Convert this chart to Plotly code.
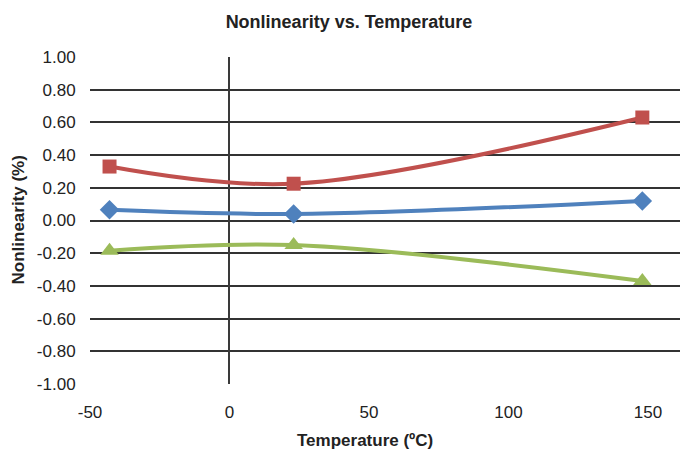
import plotly.graph_objects as go

# ── Data ────────────────────────────────────────────────────
TEMP_C = [-43, 23, 148]
RED_SERIES = [0.33, 0.225, 0.63]
BLUE_SERIES = [0.065, 0.04, 0.12]
GREEN_SERIES = [-0.185, -0.15, -0.37]

Y_TICKS = [-1.0, -0.8, -0.6, -0.4, -0.2, 0.0, 0.2, 0.4, 0.6, 0.8, 1.0]
X_TICKS = [-50, 0, 50, 100, 150]

RED = "#C0504D"
BLUE = "#4F81BD"
GREEN = "#9BBB59"
TXT = "#222222"
FONT = "Liberation Sans, Arial, sans-serif"


def _series(y, color, symbol, size):
    return go.Scatter(
        x=TEMP_C, y=y,
        mode="lines+markers",
        line=dict(color=color, width=4, shape="spline", smoothing=1),
        marker=dict(symbol=symbol, size=size, color=color),
        showlegend=False,
        cliponaxis=False,
    )


fig = go.Figure([
    _series(RED_SERIES, RED, "square", 14),
    _series(BLUE_SERIES, BLUE, "diamond", 15),
    _series(GREEN_SERIES, GREEN, "triangle-up", 16),
])

fig.update_layout(
    width=680, height=458,
    paper_bgcolor="white", plot_bgcolor="white",
    margin=dict(l=90, r=0, t=57, b=74, autoexpand=False),
    font=dict(family=FONT, color=TXT, size=17),
    title=dict(text="<b>Nonlinearity vs. Temperature</b>",
               xref="paper", x=0.439, xanchor="center",
               y=0.952, yanchor="middle",
               font=dict(family=FONT, size=18, color=TXT)),
    xaxis=dict(
        range=[-50, 161.5], tickvals=X_TICKS,
        ticktext=[str(v) for v in X_TICKS],
        showgrid=False, zeroline=True, zerolinecolor="#3a3a3a",
        zerolinewidth=1.5, showline=False, automargin=False,
        ticks="outside", ticklen=13, tickcolor="rgba(0,0,0,0)",
    ),
    yaxis=dict(
        range=[-1.0, 1.0], tickvals=Y_TICKS,
        ticktext=[f"{v:.2f}" for v in Y_TICKS],
        showgrid=True, gridcolor="#333333", gridwidth=1.5,
        zeroline=False, showline=False, automargin=False,
        ticks="outside", ticklen=10, tickcolor="rgba(0,0,0,0)",
    ),
    annotations=[
        dict(text="<b>Temperature (ºC)</b>", xref="paper", yref="paper",
             x=0.466, y=-56 / 327, xanchor="center", yanchor="middle",
             showarrow=False, font=dict(family=FONT, size=17, color=TXT)),
        dict(text="<b>Nonlinearity (%)</b>", xref="paper", yref="paper",
             x=-72 / 590, y=0.5, xanchor="center", yanchor="middle",
             textangle=-90, showarrow=False,
             font=dict(family=FONT, size=17, color=TXT)),
    ],
)

# page body has a default 8px margin; drop it so the figure sits at 0,0
fig.write_html("out.html",
               config={"displayModeBar": False},
               post_script="document.body.style.margin='0';"
                           "document.body.style.overflow='hidden';")
